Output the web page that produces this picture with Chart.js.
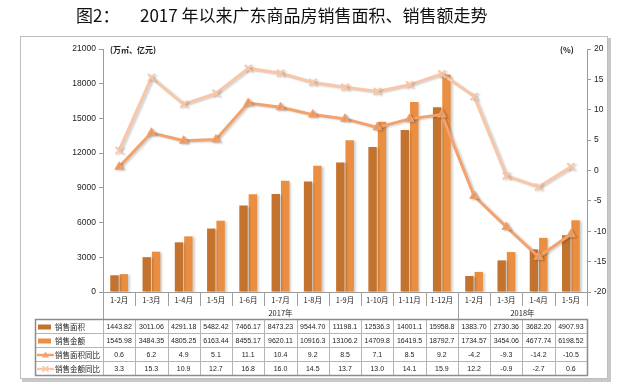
<!DOCTYPE html>
<html>
<head>
<meta charset="utf-8">
<script src="https://cdn.jsdelivr.net/npm/chart.js@4.4.1/dist/chart.umd.min.js"></script>
<style>
  html, body { margin: 0; padding: 0; background: #fff; }
  #wrap { width: 630px; height: 390px; position: relative; }
</style>
</head>
<body>
<div id="wrap"><canvas id="chart" width="630" height="390"></canvas></div>
<script>
// data
var months = ['1-2月', '1-3月', '1-4月', '1-5月', '1-6月', '1-7月', '1-8月', '1-9月', '1-10月', '1-11月', '1-12月',
              '1-2月', '1-3月', '1-4月', '1-5月'];
var yearLabels = ['2017年', '2018年'];
var yearCounts = [11, 4];

var salesArea = [1443.82, 3011.06, 4291.18, 5482.42, 7466.17, 8473.23, 9544.70, 11198.1, 12536.3, 14001.1, 15958.8,
                 1383.70, 2730.36, 3682.20, 4907.93];
var salesAmount = [1545.98, 3484.35, 4805.25, 6163.44, 8455.17, 9620.11, 10916.3, 13106.2, 14709.8, 16419.5, 18792.7,
                   1734.57, 3454.06, 4677.74, 6198.52];
var areaYoY = [0.6, 6.2, 4.9, 5.1, 11.1, 10.4, 9.2, 8.5, 7.1, 8.5, 9.2, -4.2, -9.3, -14.2, -10.5];
var amountYoY = [3.3, 15.3, 10.9, 12.7, 16.8, 16.0, 14.5, 13.7, 13.0, 14.1, 15.9, 12.2, -0.9, -2.7, 0.6];

var seriesNames = ['销售面积', '销售金额', '销售面积同比', '销售金额同比'];

var COL_AREA = '#C4732F';
var COL_AMOUNT = '#EA8F42';
var COL_AREA_YOY = '#F4A26C';
var COL_AMOUNT_YOY = '#F8C6A8';

var CJK = '"Noto Sans CJK SC", "Liberation Sans", sans-serif';
var NUM = '"Liberation Sans", "Noto Sans CJK SC", sans-serif';

function fmtBig(v) { return v.toPrecision(6); }
function fmtPct(v) { return v.toFixed(1); }

var shadowPlugin = {
    id: 'shadow',
    beforeDatasetDraw: function (chart, args) {
        var ctx = chart.ctx;
        ctx.save();
        ctx.shadowColor = 'rgba(0,0,0,0.18)';
        ctx.shadowOffsetX = 2;
        ctx.shadowOffsetY = 1;
        ctx.shadowBlur = 2;
    },
    afterDatasetDraw: function (chart) {
        chart.ctx.restore();
    }
};

var framePlugin = {
    id: 'frame',
    beforeDraw: function (chart) {
        var ctx = chart.ctx;
        ctx.save();
        ctx.fillStyle = '#fff';
        ctx.fillRect(0, 0, 630, 390);
        // shadow of the frame
        ctx.fillStyle = '#c8c8c8';
        ctx.fillRect(22, 379, 589, 3);
        ctx.fillRect(608, 38, 3, 344);
        ctx.strokeStyle = '#bdbdbd';
        ctx.lineWidth = 1;
        ctx.strokeRect(20.5, 36.5, 587, 342);
        // title
        ctx.fillStyle = '#111';
        ctx.textBaseline = 'middle';
        ctx.textAlign = 'left';
        ctx.font = '17px ' + CJK;
        ctx.fillText('图2：', 76, 16);
        ctx.fillText('2017 年以来广东商品房销售面积、销售额走势', 140, 16);
        ctx.restore();
    },
    afterDraw: function (chart) {
        var ctx = chart.ctx;
        var x = chart.scales.x;
        var area = chart.chartArea;
        var n = months.length;
        var w = (area.right - area.left) / n;
        ctx.save();

        // unit labels
        ctx.fillStyle = '#222';
        ctx.font = 'bold 8px ' + CJK;
        ctx.textBaseline = 'middle';
        ctx.textAlign = 'left';
        ctx.fillText('(万㎡、亿元)', 110, 50);
        ctx.fillText('(%)', 560, 50);

        // category label box
        ctx.strokeStyle = '#a0a0a0';
        ctx.lineWidth = 1;
        ctx.beginPath();
        ctx.moveTo(area.left + 0.5, area.bottom);
        ctx.lineTo(area.left + 0.5, 319);
        var edge = 0;
        for (var i = 1; i <= n; i++) {
            var xe = Math.round(x.getPixelForValue(i - 1) + w / 2) + 0.5;
            ctx.moveTo(xe, area.bottom);
            ctx.lineTo(xe, 306);
        }
        for (var g = 0; g < yearCounts.length - 1; g++) {
            edge += yearCounts[g];
            var xg = Math.round(x.getPixelForValue(edge - 1) + w / 2) + 0.5;
            ctx.moveTo(xg, area.bottom);
            ctx.lineTo(xg, 319);
        }
        ctx.stroke();

        ctx.fillStyle = '#222';
        ctx.textAlign = 'center';
        ctx.font = '7.5px ' + CJK;
        for (var m = 0; m < n; m++) {
            ctx.fillText(months[m], x.getPixelForValue(m), 300);
        }
        var start = 0;
        for (var k = 0; k < yearLabels.length; k++) {
            var a = x.getPixelForValue(start) - w / 2;
            var b = x.getPixelForValue(start + yearCounts[k] - 1) + w / 2;
            ctx.fillText(yearLabels[k], (a + b) / 2, 313);
            start += yearCounts[k];
        }

        // data table
        var top = 319, rowH = 14, left = 35;
        var rows = [salesArea.map(fmtBig), salesAmount.map(fmtBig), areaYoY.map(fmtPct), amountYoY.map(fmtPct)];
        var right = Math.round(area.right) + 0.5;
        ctx.strokeStyle = '#b4b4b4';
        ctx.beginPath();
        for (var r = 1; r < 4; r++) {
            ctx.moveTo(left, top + r * rowH + 0.5);
            ctx.lineTo(right, top + r * rowH + 0.5);
        }
        ctx.moveTo(area.left + 0.5, top);
        ctx.lineTo(area.left + 0.5, top + 4 * rowH);
        for (var c = 1; c < n; c++) {
            var xc = Math.round(x.getPixelForValue(c - 1) + w / 2) + 0.5;
            ctx.moveTo(xc, top);
            ctx.lineTo(xc, top + 4 * rowH);
        }
        ctx.stroke();
        ctx.strokeStyle = '#8c8c8c';
        ctx.lineWidth = 1.5;
        ctx.strokeRect(left + 0.5, top + 0.5, right - left - 0.5, 4 * rowH);

        ctx.font = '7px ' + NUM;
        ctx.fillStyle = '#222';
        for (var rr = 0; rr < 4; rr++) {
            var yMid = top + rr * rowH + rowH / 2 + 1;
            for (var cc = 0; cc < n; cc++) {
                ctx.fillText(rows[rr][cc], x.getPixelForValue(cc), yMid);
            }
        }

        // legend keys in the first column
        var colors = [COL_AREA, COL_AMOUNT, COL_AREA_YOY, COL_AMOUNT_YOY];
        ctx.textAlign = 'left';
        ctx.font = '7.5px ' + CJK;
        for (var s = 0; s < 4; s++) {
            var ym = top + s * rowH + rowH / 2 + 1;
            if (s < 2) {
                ctx.fillStyle = colors[s];
                ctx.fillRect(38, ym - 2.5, 13, 5);
            } else {
                ctx.strokeStyle = colors[s];
                ctx.lineWidth = 2.5;
                ctx.beginPath();
                ctx.moveTo(37, ym);
                ctx.lineTo(54, ym);
                ctx.stroke();
                ctx.lineWidth = 1.5;
                ctx.beginPath();
                if (s === 2) {
                    ctx.fillStyle = colors[s];
                    ctx.moveTo(45.5, ym - 3.5);
                    ctx.lineTo(49, ym + 2.5);
                    ctx.lineTo(42, ym + 2.5);
                    ctx.closePath();
                    ctx.fill();
                } else {
                    ctx.moveTo(42.5, ym - 3);
                    ctx.lineTo(48.5, ym + 3);
                    ctx.moveTo(48.5, ym - 3);
                    ctx.lineTo(42.5, ym + 3);
                    ctx.stroke();
                }
            }
            ctx.fillStyle = '#222';
            ctx.fillText(seriesNames[s], 55, ym);
        }
        ctx.restore();
    }
};

var chart = new Chart(document.getElementById('chart'), {
    type: 'bar',
    data: {
        labels: months,
        datasets: [{
            type: 'line',
            label: seriesNames[2],
            data: areaYoY,
            yAxisID: 'yR',
            borderColor: COL_AREA_YOY,
            backgroundColor: COL_AREA_YOY,
            borderWidth: 3,
            pointStyle: 'triangle',
            pointRadius: 5,
            pointBorderWidth: 1,
            tension: 0,
            order: 0
        }, {
            type: 'line',
            label: seriesNames[3],
            data: amountYoY,
            yAxisID: 'yR',
            borderColor: COL_AMOUNT_YOY,
            backgroundColor: COL_AMOUNT_YOY,
            borderWidth: 3,
            pointStyle: 'crossRot',
            pointRadius: 5,
            pointBorderWidth: 2,
            tension: 0,
            order: 0
        }, {
            label: seriesNames[0],
            data: salesArea,
            yAxisID: 'y',
            backgroundColor: COL_AREA,
            barPercentage: 0.9,
            categoryPercentage: 0.58,
            order: 1
        }, {
            label: seriesNames[1],
            data: salesAmount,
            yAxisID: 'y',
            backgroundColor: COL_AMOUNT,
            barPercentage: 0.9,
            categoryPercentage: 0.58,
            order: 1
        }]
    },
    options: {
        responsive: false,
        animation: false,
        layout: { padding: { left: 0, right: 0, top: 49, bottom: 0 } },
        plugins: {
            legend: { display: false },
            title: { display: false },
            tooltip: { enabled: false }
        },
        scales: {
            x: {
                grid: { display: false },
                border: { display: true, color: '#9a9a9a' },
                ticks: { display: false },
                afterFit: function (scale) { scale.height = 98; }
            },
            y: {
                position: 'left',
                min: 0,
                max: 21000,
                grid: { drawOnChartArea: false, tickLength: 4, color: '#9a9a9a' },
                border: { display: true, color: '#9a9a9a' },
                ticks: {
                    stepSize: 3000,
                    padding: 3,
                    color: '#222',
                    font: { size: 8.5, family: NUM },
                    callback: function (value) { return String(value); }
                },
                afterFit: function (scale) { scale.width = 103; }
            },
            yR: {
                position: 'right',
                min: -20,
                max: 20,
                grid: { drawOnChartArea: false, tickLength: 4, color: '#9a9a9a' },
                border: { display: true, color: '#9a9a9a' },
                ticks: {
                    stepSize: 5,
                    padding: 3,
                    color: '#222',
                    font: { size: 8.5, family: NUM },
                    callback: function (value) { return String(value); }
                },
                afterFit: function (scale) { scale.width = 43; }
            }
        }
    },
    plugins: [shadowPlugin, framePlugin]
});
</script>
</body>
</html>
